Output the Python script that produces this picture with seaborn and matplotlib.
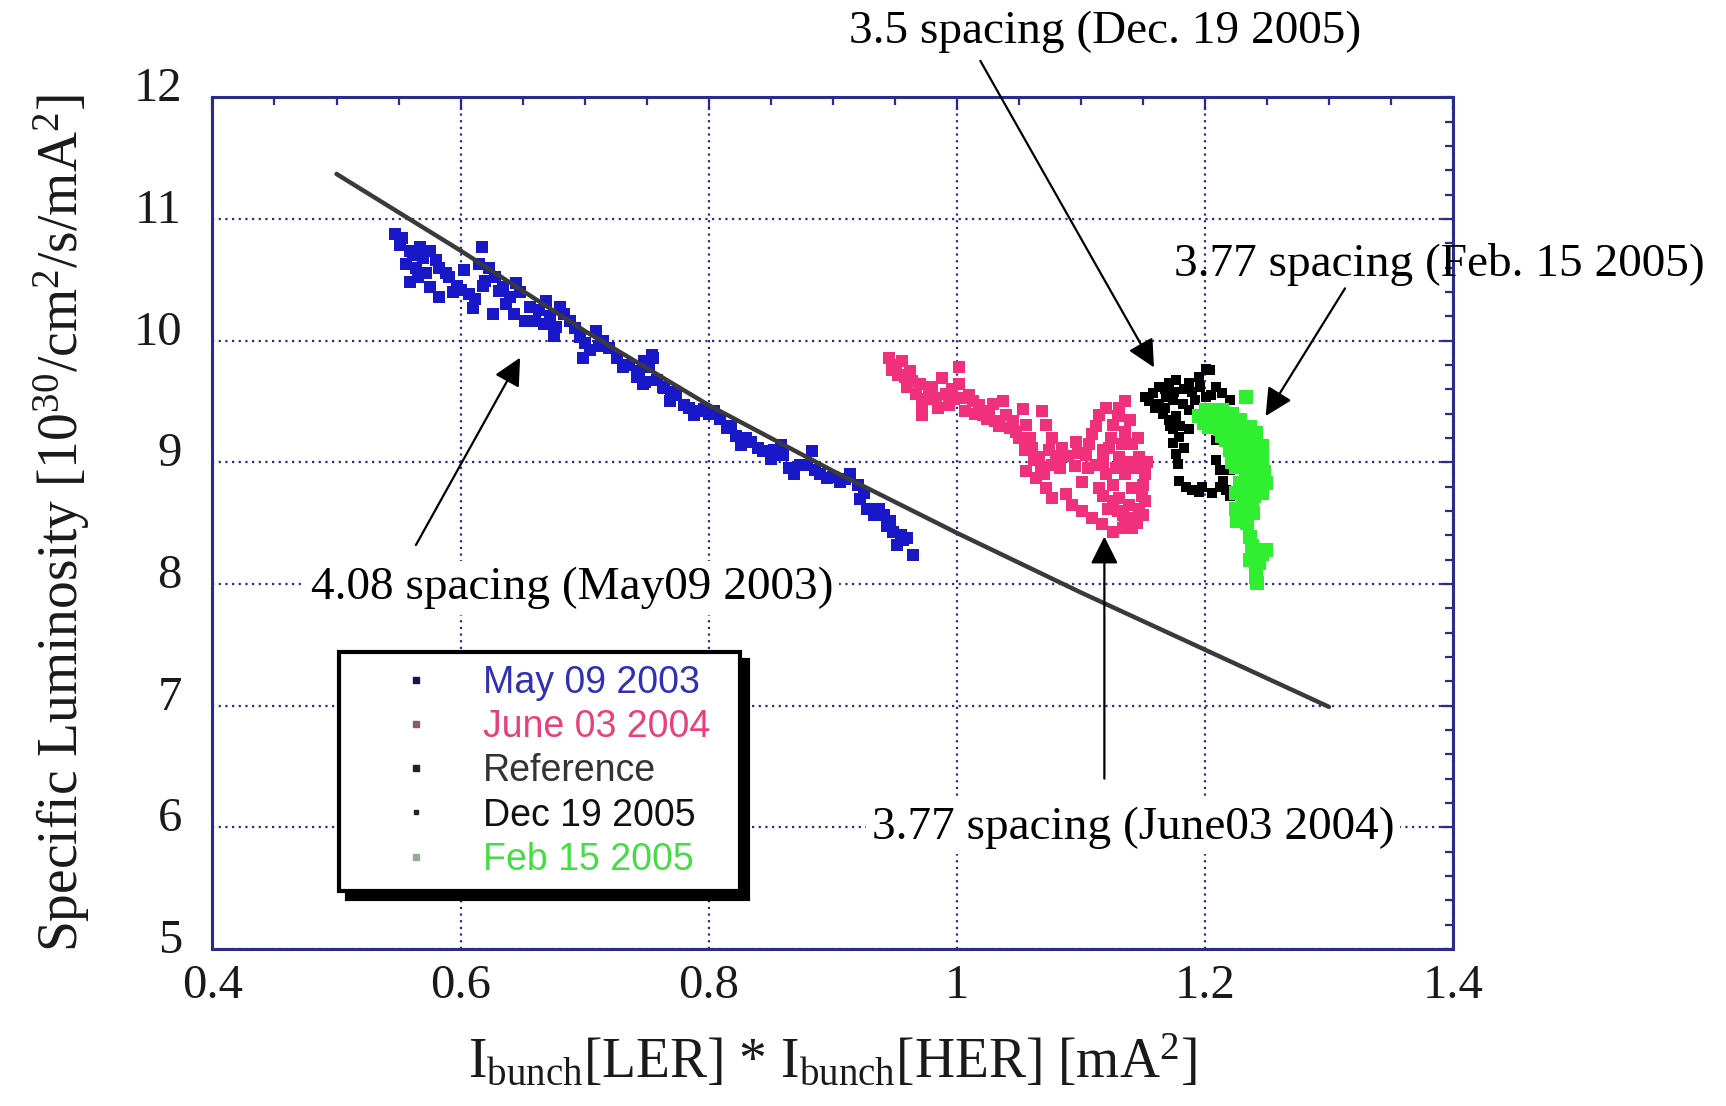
import matplotlib
matplotlib.use('Agg')
import matplotlib.pyplot as plt
import matplotlib.transforms as mtransforms
from matplotlib.lines import Line2D
from matplotlib.ticker import MultipleLocator
import pandas as pd
import seaborn as sns

# ---------------- data ----------------
may_x = [0.547,0.551,0.559,0.567,0.575,0.556,0.564,0.572,0.559,0.575,
         0.583,0.591,0.597,0.607,0.583,0.610,0.617,0.615,0.623,0.620,
         0.631,0.626,0.645,0.640,0.637,0.652,0.660,0.669,0.667,0.677,
         0.683,0.688,0.675,0.696,0.709,0.715,0.704,0.699,0.726,0.731,
         0.742,0.747,0.755,0.752,0.763,
         0.748,0.754,0.749,0.764,0.769,0.774,0.780,0.788,0.796,0.804,
         0.809,0.815,0.826,0.834,0.844,0.850,0.858,0.860,0.869,0.874,
         0.883,0.879,0.890,0.895,0.906,0.914,0.920,0.922,0.928,0.933,
         0.941,0.944,0.949,0.955,0.960,0.952,0.965,
         0.553,0.562,0.570,0.580,0.566,0.588,0.594,0.600,0.603,0.612,
         0.618,0.628,0.634,0.643,0.648,0.656,0.663,0.672,0.680,0.692,
         0.700,0.712,0.720,0.736,0.744,0.758,0.770,0.784,0.792,0.800,
         0.818,0.822,0.830,0.840,0.853,0.865,0.886,0.900,0.910,0.925,
         0.937,0.946,0.957]
may_y = [10.88,10.79,10.74,10.77,10.74,10.63,10.60,10.56,10.48,10.44,
         10.60,10.52,10.45,10.38,10.36,10.27,10.77,10.63,10.60,10.49,
         10.41,10.22,10.47,10.36,10.30,10.16,10.16,10.33,10.14,10.11,
         10.22,10.16,10.04,10.03,10.08,10.00,9.92,9.86,9.86,9.78,
         9.70,9.64,9.86,9.78,9.62,
         9.83,9.88,9.66,9.61,9.50,9.55,9.47,9.39,9.44,9.42,
         9.36,9.28,9.14,9.17,9.09,9.03,9.14,9.06,8.90,8.98,
         9.09,8.98,8.90,8.87,8.84,8.90,8.81,8.70,8.62,8.57,
         8.57,8.48,8.43,8.40,8.38,8.32,8.24,
         10.84,10.70,10.68,10.66,10.52,10.56,10.40,10.42,10.58,10.34,
         10.45,10.52,10.44,10.22,10.40,10.28,10.25,10.20,10.28,10.10,
         9.98,9.96,9.94,9.80,9.75,9.68,9.58,9.45,9.42,9.40,
         9.30,9.22,9.20,9.12,9.10,8.95,8.94,8.88,8.86,8.75,
         8.62,8.52,8.36]

june_x = [0.945,0.951,0.956,0.953,0.962,0.964,0.970,0.967,0.972,0.972,
          0.978,0.983,0.988,0.991,0.994,1.002,1.002,1.005,1.007,1.013,
          1.018,1.021,1.026,1.031,1.037,1.040,1.045,1.048,1.053,1.056,
          1.059,1.061,1.069,1.072,1.066,1.077,1.056,1.064,1.072,1.077,
          1.077,1.085,1.088,1.093,1.101,1.109,1.117,1.126,1.134,1.096,
          1.104,1.109,1.115,1.120,1.126,1.131,1.136,1.136,1.141,1.147,
          1.123,1.131,1.112,1.120,1.126,1.136,1.141,1.150,1.131,1.139,
          1.147,1.152,1.144,1.150,1.101,1.115,1.126,1.134,1.141,
          0.948,0.958,0.960,0.975,0.980,0.985,0.996,0.998,1.010,1.015,
          1.024,1.029,1.034,1.043,1.050,1.055,1.062,1.068,1.074,1.080,
          1.083,1.090,1.095,1.098,1.106,1.107,1.112,1.118,1.118,1.124,
          1.128,1.130,1.133,1.138,1.140,1.144,1.146,1.149,1.152,1.153,
          1.118,1.122,1.130,1.136,1.145,1.070]
june_y = [9.86,9.80,9.83,9.72,9.75,9.67,9.64,9.56,9.47,9.39,
          9.59,9.53,9.69,9.56,9.47,9.78,9.64,9.53,9.42,9.50,
          9.47,9.39,9.42,9.34,9.50,9.39,9.34,9.25,9.44,9.31,
          9.20,9.12,9.42,9.31,9.04,9.20,8.93,8.87,8.79,8.98,
          8.71,9.12,8.74,8.65,8.60,8.54,8.49,8.43,8.46,9.17,
          9.06,9.23,9.39,9.45,9.31,9.45,9.50,9.25,9.15,9.04,
          9.12,9.04,8.98,8.90,8.81,8.90,8.79,8.81,8.71,8.65,
          8.62,8.68,8.54,8.57,8.84,8.79,8.68,8.57,8.46,
          9.76,9.70,9.62,9.52,9.62,9.45,9.60,9.52,9.55,9.40,
          9.36,9.48,9.30,9.28,9.20,9.10,9.02,8.95,9.10,9.05,
          8.95,9.05,8.97,9.08,8.95,9.15,9.30,9.10,9.00,9.20,
          8.95,9.38,9.15,9.00,9.35,8.95,9.20,8.72,8.90,9.00,
          8.72,8.62,8.60,8.52,8.50,8.90]

dec_x = [1.152,1.158,1.163,1.171,1.177,1.187,1.195,1.201,1.204,1.209,
         1.214,1.220,1.163,1.169,1.174,1.182,1.166,1.171,1.177,1.174,
         1.179,1.174,1.177,1.178,1.187,1.192,1.201,1.187,1.179,1.185,
         1.190,1.198,1.206,1.212,1.212,1.217,1.220,1.209,1.217,1.209,
         1.220,
         1.155,1.160,1.168,1.175,1.183,1.190,1.196,1.205,1.168,1.172,
         1.180,1.183,1.195,1.215]
dec_y = [9.54,9.57,9.62,9.65,9.68,9.65,9.70,9.77,9.76,9.62,
         9.57,9.51,9.48,9.54,9.51,9.48,9.40,9.35,9.38,9.27,
         9.21,9.16,9.07,8.99,9.43,9.51,9.54,9.27,8.85,8.80,
         8.77,8.80,8.75,8.80,8.94,8.77,8.72,9.02,9.29,9.18,
         8.94,
         9.50,9.45,9.60,9.58,9.60,9.58,9.62,9.55,9.45,9.30,
         9.30,9.12,8.76,8.85]

feb_x = [1.233,1.195,1.201,1.206,1.214,1.222,1.228,1.203,1.212,1.220,
         1.228,1.236,1.241,1.246,1.217,1.225,1.233,1.241,1.222,1.231,
         1.238,1.246,1.225,1.233,1.241,1.249,1.246,1.228,1.236,1.225,
         1.231,1.238,1.228,1.233,1.236,1.236,1.238,1.246,1.249,1.236,
         1.241,1.244,1.241,1.242,
         1.199,1.205,1.210,1.217,1.226,1.232,1.238,1.244,1.220,1.214,
         1.229,1.236,1.243,1.248,1.228,1.222,1.240,1.244,1.230,1.232,
         1.225,1.226,1.239,1.234]
feb_y = [9.54,9.38,9.43,9.43,9.43,9.40,9.35,9.29,9.27,9.29,
         9.27,9.29,9.24,9.13,9.18,9.16,9.16,9.10,9.07,9.04,
         9.02,9.02,8.96,8.91,8.88,8.83,8.75,8.83,8.80,8.75,
         8.69,8.66,8.61,8.56,8.61,8.39,8.31,8.25,8.28,8.20,
         8.14,8.17,8.06,8.01,
         9.32,9.36,9.38,9.36,9.30,9.22,9.20,9.08,9.10,9.22,
         9.12,9.10,8.95,8.92,8.96,9.00,8.72,8.80,8.76,8.65,
         8.62,8.52,8.58,8.50]

ref_x = [0.5, 0.6, 0.7, 0.8, 0.9, 1.0, 1.1, 1.2, 1.3]
ref_y = [11.37, 10.74, 10.08, 9.47, 8.93, 8.42, 7.93, 7.46, 6.99]

legend_labels = ["May 09 2003", "June 03 2004", "Reference", "Dec 19 2005", "Feb 15 2005"]
x_ticks = [0.4, 0.6, 0.8, 1.0, 1.2, 1.4]
x_ticklabels = ["0.4", "0.6", "0.8", "1", "1.2", "1.4"]
y_ticks = [5, 6, 7, 8, 9, 10, 11, 12]

annotations = [
    ("3.5 spacing (Dec. 19 2005)", (1.120, 12.54), (1.019, 12.30), (1.159, 9.78), False),
    ("3.77 spacing (Feb. 15 2005)", (1.389, 10.63), (1.313, 10.43), (1.249, 9.38), False),
    ("4.08 spacing (May09 2003)", (0.690, 7.97), (0.564, 8.32), (0.648, 9.86), True),
    ("3.77 spacing (June03 2004)", (1.142, 6.00), (1.119, 6.40), (1.119, 8.39), True),
]

# ---------------- style ----------------
sns.set_theme(style="white")
serif = ["Liberation Serif", "DejaVu Serif"]
plt.rcParams["font.family"] = serif
plt.rcParams["mathtext.fontset"] = "custom"
plt.rcParams["mathtext.rm"] = "Liberation Serif"
plt.rcParams["mathtext.it"] = "Liberation Serif:italic"
plt.rcParams["mathtext.bf"] = "Liberation Serif:bold"

NAVY = "#2b2b8f"
BLUE = "#1818c8"
PINK = "#f0307a"
GREEN = "#30ee30"

fig = plt.figure(figsize=(17.26, 11.06), dpi=100)
ax = fig.add_axes([0.1231, 0.142, 0.7187, 0.770])

df_may = pd.DataFrame({"x": may_x, "y": may_y})
df_june = pd.DataFrame({"x": june_x, "y": june_y})
df_dec = pd.DataFrame({"x": dec_x, "y": dec_y})
df_feb = pd.DataFrame({"x": feb_x, "y": feb_y})
df_ref = pd.DataFrame({"x": ref_x, "y": ref_y})

sns.scatterplot(data=df_may, x="x", y="y", ax=ax, color=BLUE, marker="s",
                s=82, linewidth=0, legend=False, zorder=3)
sns.scatterplot(data=df_june, x="x", y="y", ax=ax, color=PINK, marker="s",
                s=85, linewidth=0, legend=False, zorder=3)
sns.scatterplot(data=df_dec, x="x", y="y", ax=ax, color="black", marker="s",
                s=42, linewidth=0, legend=False, zorder=3)
sns.scatterplot(data=df_feb, x="x", y="y", ax=ax, color=GREEN, marker="s",
                s=95, linewidth=0, legend=False, zorder=4)
sns.lineplot(data=df_ref, x="x", y="y", ax=ax, color="#3a3a3a", lw=3.2,
             legend=False, zorder=5)

ax.set_xlim(0.4, 1.4)
ax.set_ylim(5, 12)
ax.set_xticks(x_ticks)
ax.set_xticklabels(x_ticklabels)
ax.set_yticks(y_ticks)
ax.xaxis.set_minor_locator(MultipleLocator(0.05))
ax.yaxis.set_minor_locator(MultipleLocator(0.2))
ax.tick_params(which="both", direction="in", top=True, right=True,
               color=NAVY, width=1.6)
ax.tick_params(which="major", length=9, labelsize=35, labelcolor="#1a1a1a",
               pad=11)
ax.tick_params(axis="y", which="major", pad=22)
ax.tick_params(which="minor", length=6)
for sp in ax.spines.values():
    sp.set_color(NAVY)
    sp.set_linewidth(2.2)
ax.grid(True, which="major", linestyle=(0, (1, 2)), color=NAVY, lw=1.6)
ax.set_axisbelow(True)

off = mtransforms.ScaledTranslation(0, 0.13, fig.dpi_scale_trans)
for lab in ax.get_yticklabels():
    lab.set_transform(lab.get_transform() + off)

ax.set_xlabel(r"I$_{\mathrm{bunch}}$[LER] * I$_{\mathrm{bunch}}$[HER] [mA$^{2}$]",
              fontsize=40, color="#1a1a1a")
ax.set_ylabel(r"Specific Luminosity [10$^{30}$/cm$^{2}$/s/mA$^{2}$]",
              fontsize=40, color="#1a1a1a")
ax.xaxis.set_label_coords(0.5, -0.10)
ax.yaxis.set_label_coords(-0.097, 0.5)

# legend
handles = [
    Line2D([], [], ls="none", marker="s", ms=4, color="#14145a"),
    Line2D([], [], ls="none", marker="s", ms=4, color="#8a5a70"),
    Line2D([], [], ls="none", marker="s", ms=4, color="#222222"),
    Line2D([], [], ls="none", marker="s", ms=2.5, color="#222222"),
    Line2D([], [], ls="none", marker="s", ms=4, color="#9aaa9a"),
]
leg = ax.legend(handles, legend_labels, loc="upper left",
                bbox_to_anchor=(0.102, 0.0, 0.3233, 0.349), mode="expand",
                fancybox=False,
                prop={"family": ["Liberation Sans", "DejaVu Sans"], "size": 27},
                labelcolor=["#3030b4", "#e8407a", "#333333", "#111111", "#44dd44"],
                borderpad=0.35, handlelength=3.4, handletextpad=0.1,
                labelspacing=0.22, framealpha=1, edgecolor="black",
                borderaxespad=0.0,
                shadow={"ox": 6, "oy": -6, "facecolor": "black",
                        "edgecolor": "black", "alpha": 1})
leg.get_frame().set_linewidth(3)
leg.set_zorder(10)

# annotations
for text, tpos, tail, head, boxed in annotations:
    ax.annotate("", xy=head, xytext=tail, xycoords="data",
                arrowprops=dict(arrowstyle="-|>", mutation_scale=42,
                                lw=1.6, color="black", shrinkA=0, shrinkB=0),
                annotation_clip=False, zorder=8)
    kw = {}
    if boxed:
        kw["bbox"] = dict(facecolor="white", edgecolor="none", pad=4)
    ax.text(tpos[0], tpos[1], text, fontsize=34, ha="center", va="center",
            color="black", zorder=9, clip_on=False, **kw)

fig.savefig("out.png", dpi=100, facecolor="white")
